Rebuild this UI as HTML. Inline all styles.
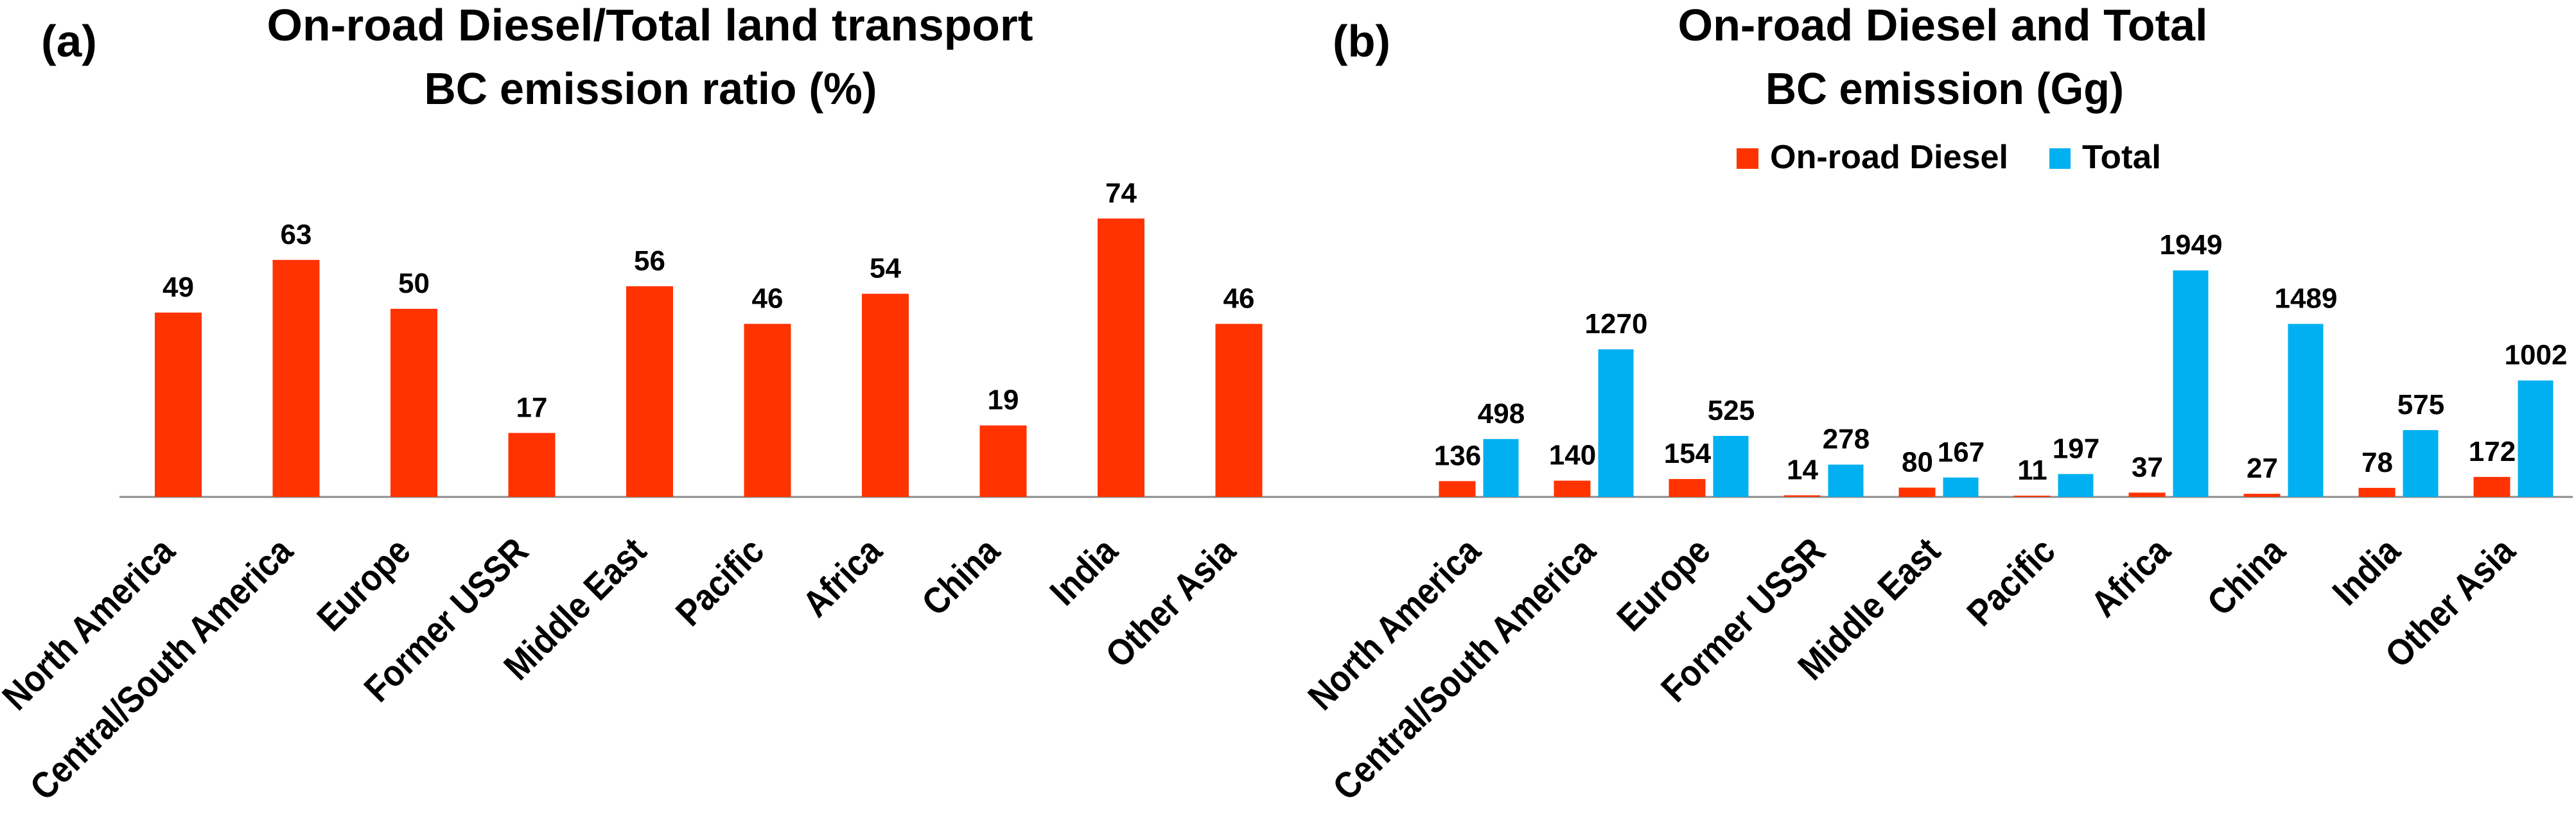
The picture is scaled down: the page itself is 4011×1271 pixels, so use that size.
<!DOCTYPE html>
<html><head><meta charset="utf-8">
<style>
html,body{margin:0;padding:0;background:#fff;}
svg{display:block;font-family:"Liberation Sans",sans-serif;font-weight:bold;}
</style></head>
<body>
<svg id="chart" width="4011" height="1271" viewBox="0 0 4011 1271" xmlns="http://www.w3.org/2000/svg">
  <text x="64" y="88" font-size="70" textLength="87" lengthAdjust="spacingAndGlyphs">(a)</text>
  <text x="1012" y="63" font-size="70" text-anchor="middle" textLength="1193" lengthAdjust="spacingAndGlyphs">On-road Diesel/Total land transport</text>
  <text x="1013" y="162" font-size="70" text-anchor="middle" textLength="705" lengthAdjust="spacingAndGlyphs">BC emission ratio (%)</text>
  <line x1="186" y1="774" x2="2005" y2="774" stroke="#8c8c8c" stroke-width="3"/>

  <text x="2075" y="88" font-size="70" textLength="90" lengthAdjust="spacingAndGlyphs">(b)</text>
  <text x="3025" y="63" font-size="70" text-anchor="middle" textLength="825" lengthAdjust="spacingAndGlyphs">On-road Diesel and Total</text>
  <text x="3028" y="162" font-size="70" text-anchor="middle" textLength="558" lengthAdjust="spacingAndGlyphs">BC emission (Gg)</text>
  <line x1="2005" y1="774" x2="4006" y2="774" stroke="#8c8c8c" stroke-width="3"/>

  <g>
    <rect x="2704" y="231" width="34" height="32" fill="#ff3300"/>
    <text x="2756" y="262" font-size="52" textLength="371" lengthAdjust="spacingAndGlyphs">On-road Diesel</text>
    <rect x="3191" y="231" width="33" height="32" fill="#00b0f0"/>
    <text x="3242" y="262" font-size="52" textLength="123" lengthAdjust="spacingAndGlyphs">Total</text>
  </g>
  <g id="marks"></g>
</svg>
<script>
const categories = ["North America","Central/South America","Europe","Former USSR","Middle East","Pacific","Africa","China","India","Other Asia"];
const ratioValues = [49,63,50,17,56,46,54,19,74,46];
const dieselValues = [136,140,154,14,80,11,37,27,78,172];
const totalValues = [498,1270,525,278,167,197,1949,1489,575,1002];

const NS = "http://www.w3.org/2000/svg";
const g = document.getElementById("marks");
const BASE = 774;
function xa(i){ return 277.5 + i*183.5; }
function ya(v){ return BASE - v*5.86; }
function xb(i){ return 2302.5 + i*179; }
function yb(v){ return BASE - v*0.181; }

function mk(tag, attrs){
  const el = document.createElementNS(NS, tag);
  for (const k in attrs) el.setAttribute(k, attrs[k]);
  g.appendChild(el);
  return el;
}
function catLabel(x, text){
  const t = mk("text", {x: x, y: 862, "font-size": 58, "text-anchor": "end", transform: "rotate(-45 " + x + " 862)"});
  t.textContent = text;
  const w = t.getComputedTextLength();
  t.setAttribute("textLength", (w*0.88).toFixed(1));
  t.setAttribute("lengthAdjust", "spacingAndGlyphs");
  return t;
}

ratioValues.forEach((v, i) => {
  const c = xa(i), top = ya(v);
  const r = mk("rect", {x: c-36.5, y: top, width: 73, height: BASE-top, fill: "#ff3300"});
  
  
  const t = mk("text", {x: c, y: top-25, "font-size": 44, "text-anchor": "middle"});
  t.textContent = v;
  
  
  const l = catLabel(c-2, categories[i]);
  
  
});

categories.forEach((name, i) => {
  const c = xb(i);
  const d = dieselValues[i], tv = totalValues[i];
  const dt = yb(d), tt = yb(tv);
  const r1 = mk("rect", {x: c-62, y: dt, width: 57, height: BASE-dt, fill: "#ff3300"});
  
  
  const r2 = mk("rect", {x: c+7, y: tt, width: 55, height: BASE-tt, fill: "#00b0f0"});
  
  
  const t1 = mk("text", {x: c-33, y: dt-25, "font-size": 44, "text-anchor": "middle"});
  t1.textContent = d;
  
  
  const t2 = mk("text", {x: c+35, y: tt-25, "font-size": 44, "text-anchor": "middle"});
  t2.textContent = tv;
  
  
  const l = catLabel(c+6, name);
  
  
});
</script>
</body></html>
